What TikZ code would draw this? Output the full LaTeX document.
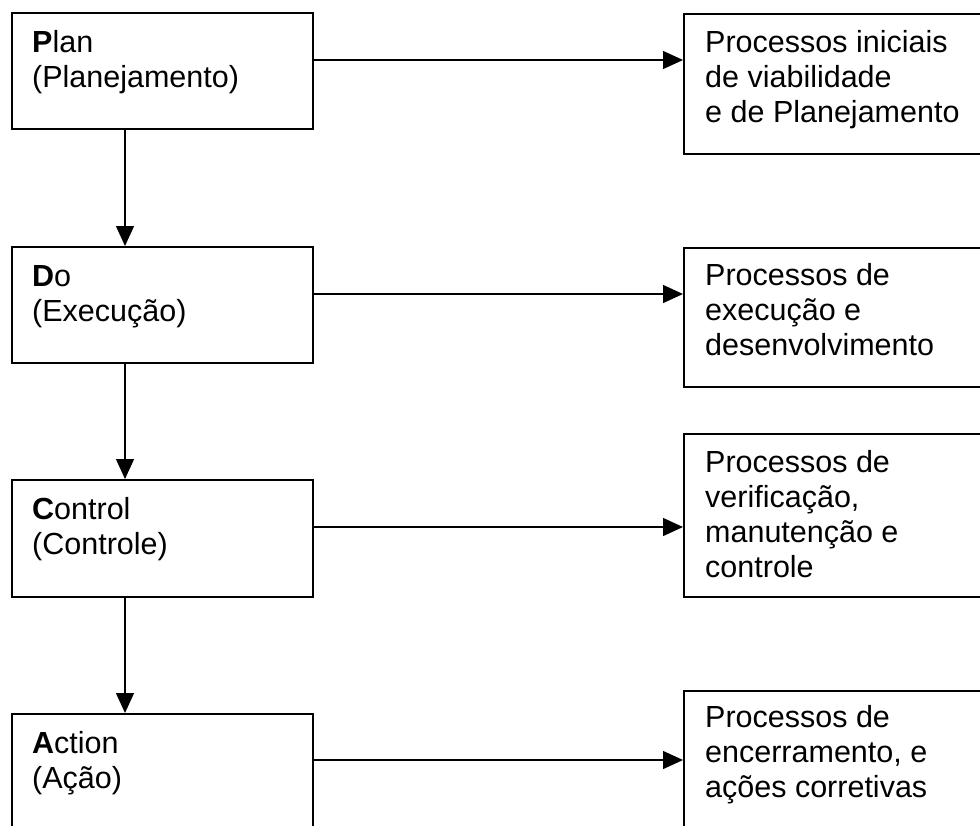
\documentclass[tikz,border=0pt]{standalone}
\usepackage{fontspec}
\setmainfont{Liberation Sans}
\usetikzlibrary{arrows.meta,calc}
\begin{document}
\begin{tikzpicture}[x=1pt,y=-1pt,
  box/.style={draw,line width=1.6pt,rectangle,inner sep=0pt,anchor=north west},
  lbl/.style={anchor=base west,align=left,inner sep=0pt,font=\fontsize{30.5}{35}\selectfont},
  arr/.style={line width=1.4pt,-{Triangle[width=18pt,length=20pt]}}]
\useasboundingbox (0,0) rectangle (980,825);
\clip (0,0) rectangle (980,825);
% left boxes
\node[box,minimum width=301pt,minimum height=116pt] (plan) at (11,12) {};
\node[box,minimum width=301pt,minimum height=116pt] (do) at (11,246) {};
\node[box,minimum width=301pt,minimum height=117pt] (ctrl) at (11,479) {};
\node[box,minimum width=301pt,minimum height=150pt] (act) at (11,713) {};
% right boxes
\node[box,minimum width=317pt,minimum height=140pt] (r1) at (683,13) {};
\node[box,minimum width=317pt,minimum height=139pt] (r2) at (683,247) {};
\node[box,minimum width=317pt,minimum height=163pt] (r3) at (683,433) {};
\node[box,minimum width=317pt,minimum height=200pt] (r4) at (683,690) {};
% texts (anchor = baseline of the last line)
\node[lbl] (plant) at ($(plan.north west)+(21,75)$) {\textbf{P}lan\\(Planejamento)};
\node[lbl] (dot) at ($(do.north west)+(21,75)$) {\textbf{D}o\\(Execução)};
\node[lbl] (ctrlt) at ($(ctrl.north west)+(21,75)$) {\textbf{C}ontrol\\(Controle)};
\node[lbl] (actt) at ($(act.north west)+(21,75)$) {\textbf{A}ction\\(Ação)};
\node[lbl] (r1t) at ($(r1.north west)+(22,109)$) {Processos iniciais\\de viabilidade\\e de Planejamento};
\node[lbl] (r2t) at ($(r2.north west)+(22,108)$) {Processos de\\execução e\\desenvolvimento};
\node[lbl] (r3t) at ($(r3.north west)+(22,144)$) {Processos de\\verificação,\\manutenção e\\controle};
\node[lbl] (r4t) at ($(r4.north west)+(22,107)$) {Processos de\\encerramento, e\\ações corretivas};
% vertical arrows
\coordinate (v) at (125,0);
\draw[arr] (plan.south -| v) -- (do.north -| v);
\draw[arr] (do.south -| v) -- (ctrl.north -| v);
\draw[arr] (ctrl.south -| v) -- (act.north -| v);
% horizontal arrows
\coordinate (h1) at (0,60);
\coordinate (h2) at (0,294);
\coordinate (h3) at (0,527);
\coordinate (h4) at (0,760);
\draw[arr] (plan.east |- h1) -- (r1.west |- h1);
\draw[arr] (do.east |- h2) -- (r2.west |- h2);
\draw[arr] (ctrl.east |- h3) -- (r3.west |- h3);
\draw[arr] (act.east |- h4) -- (r4.west |- h4);
\end{tikzpicture}
\end{document}
